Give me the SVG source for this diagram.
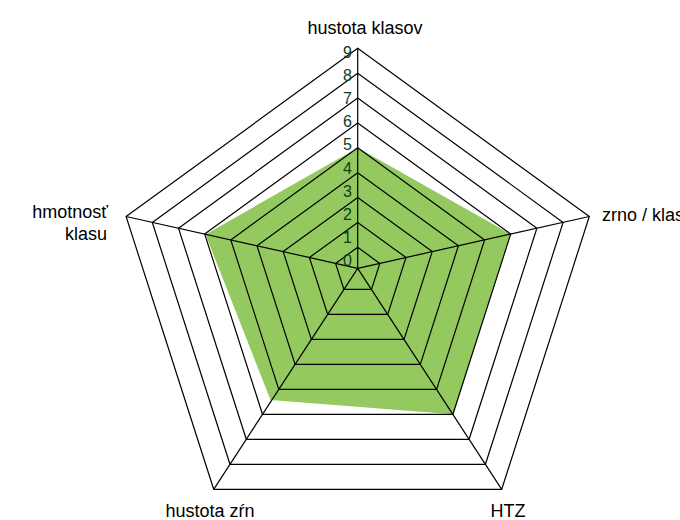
<svg xmlns="http://www.w3.org/2000/svg" width="680" height="520" viewBox="0 0 680 520">
<style>
.grid{fill:none;stroke:#000;stroke-width:1.2;stroke-linejoin:miter}
.axis{stroke:#000;stroke-width:1.2}
.data{fill:#94c95f;stroke:none}
.cat{font-family:"Liberation Sans",Arial,sans-serif;font-size:18px;fill:#000}
.tick{font-family:"Liberation Sans",Arial,sans-serif;font-size:16px;fill:#0f3d1f;text-anchor:end}
</style>
<rect width="680" height="520" fill="#fff"/>
<g id="data-series">
<polygon class="data" points="357.7,147.8 510.7,234.1 452.9,414.3 270.5,400 205.5,234.5"/>
</g>
<g id="grid">
<polygon class="grid" points="357.7,247.3 379.8,263.4 371.5,289.4 343.9,289.4 335.6,263.4"/>
<polygon class="grid" points="357.7,222.4 406.0,257.5 387.7,314.4 327.7,314.4 309.4,257.5"/>
<polygon class="grid" points="357.7,197.5 432.2,251.6 404.0,339.4 311.4,339.4 283.2,251.6"/>
<polygon class="grid" points="357.7,172.7 458.4,245.8 420.3,364.4 295.1,364.4 257.0,245.8"/>
<polygon class="grid" points="357.7,147.8 484.6,239.9 436.6,389.4 278.8,389.4 230.8,239.9"/>
<polygon class="grid" points="357.7,122.9 510.7,234.1 452.9,414.3 262.5,414.3 204.7,234.1"/>
<polygon class="grid" points="357.7,98.0 536.9,228.2 469.1,439.3 246.3,439.3 178.5,228.2"/>
<polygon class="grid" points="357.7,73.2 563.1,222.4 485.4,464.3 230.0,464.3 152.3,222.4"/>
<polygon class="grid" points="357.7,48.3 589.3,216.5 501.7,489.3 213.7,489.3 126.1,216.5"/>
</g>
<g id="connectors">
<line class="axis" x1="357.7" y1="268.3" x2="357.7" y2="48.3"/>
<line class="axis" x1="357.7" y1="268.3" x2="589.3" y2="216.5"/>
<line class="axis" x1="357.7" y1="268.3" x2="501.7" y2="489.3"/>
<line class="axis" x1="357.7" y1="268.3" x2="213.7" y2="489.3"/>
<line class="axis" x1="357.7" y1="268.3" x2="126.1" y2="216.5"/>
</g>
<g id="tick-labels">
<text class="tick" x="352" y="57.7">9</text>
<text class="tick" x="352" y="80.9">8</text>
<text class="tick" x="352" y="104.0">7</text>
<text class="tick" x="352" y="127.2">6</text>
<text class="tick" x="352" y="150.3">5</text>
<text class="tick" x="352" y="173.5">4</text>
<text class="tick" x="352" y="196.6">3</text>
<text class="tick" x="352" y="219.8">2</text>
<text class="tick" x="352" y="242.9">1</text>
<text class="tick" x="352" y="266.0">0</text>
</g>
<g id="node-hustota-klasov"><text class="cat" x="365" y="34" text-anchor="middle">hustota klasov</text></g>
<g id="node-zrno-klas"><text class="cat" x="602" y="221">zrno / klas</text></g>
<g id="node-htz"><text class="cat" x="508" y="517" text-anchor="middle">HTZ</text></g>
<g id="node-hustota-zrn"><text class="cat" x="210" y="517" text-anchor="middle">hustota zŕn</text></g>
<g id="node-hmotnost-klasu">
<text class="cat" x="108" y="218" text-anchor="end">hmotnosť</text>
<text class="cat" x="107" y="240" text-anchor="end">klasu</text>
</g>
</svg>
